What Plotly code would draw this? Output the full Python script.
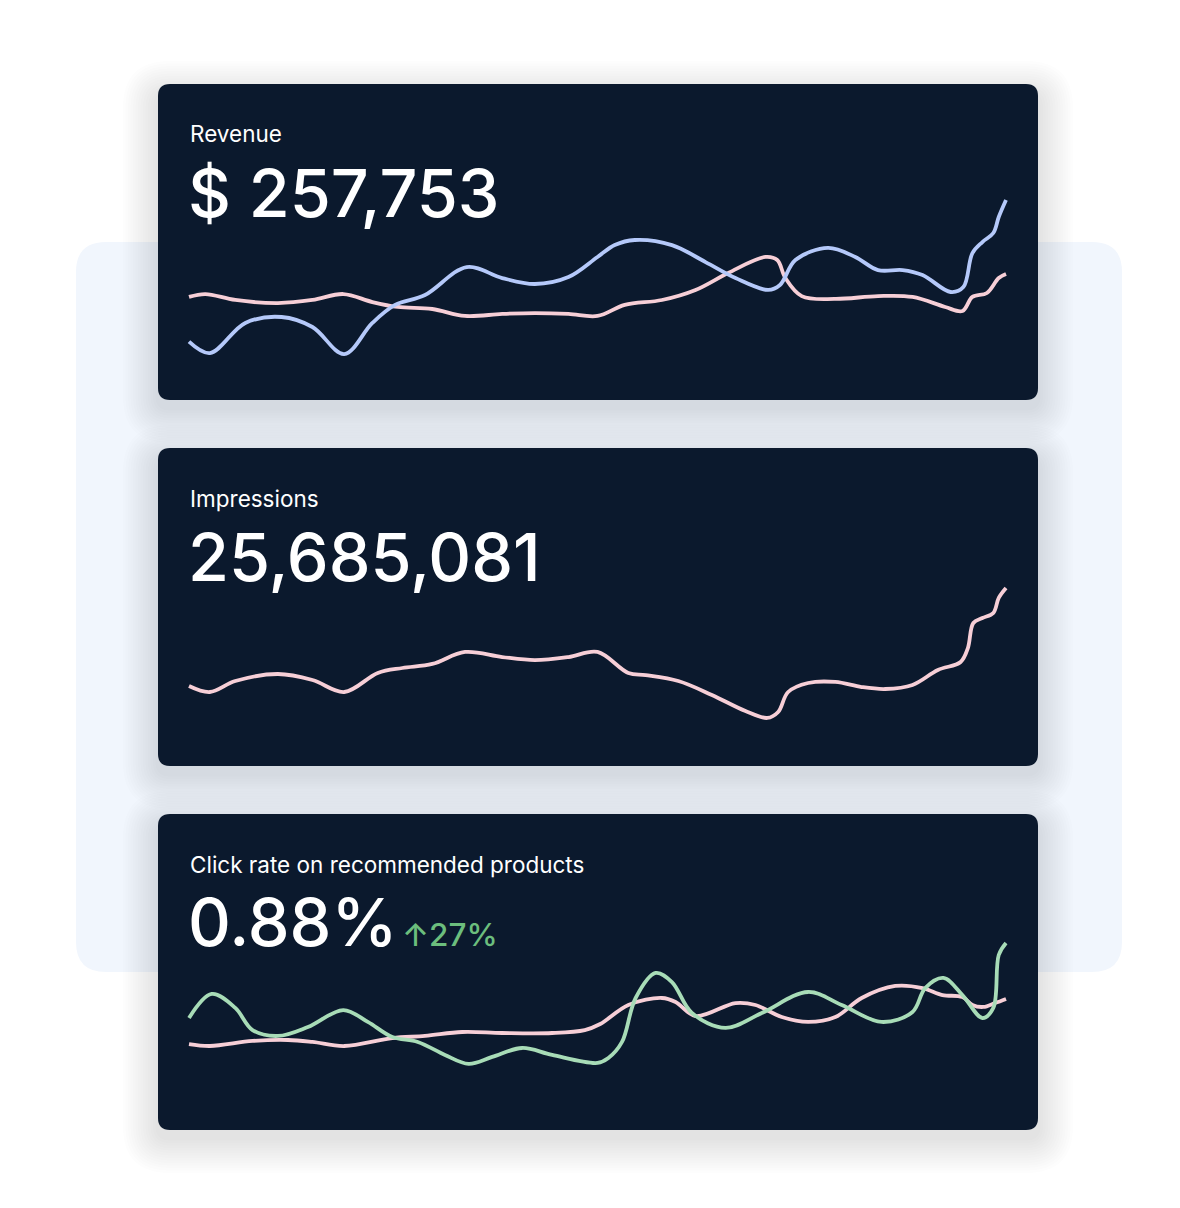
import plotly.graph_objects as go

W, H = 1180, 1208

# ---------------- data (day index 0..90, value index 0..100) ----------------
rev_blue_x = [0, 2.3, 6.2, 10.2, 13.6, 17.1, 20.2, 22.7, 26.0, 30.6, 34.5, 38.1, 41.8, 45.0,
              46.9, 49.1, 53.2, 56.9, 60.2, 63.8, 65.1, 66.8, 70.4, 73.4, 75.9, 78.6, 80.8,
              83.9, 85.3, 86.3, 87.4, 88.6, 89.2, 90.0]
rev_blue_y = [10.8, 4.1, 21.8, 25.3, 19.4, 3.5, 21.8, 32.4, 38.2, 54.7, 48.2, 44.7, 48.8, 60.6,
              67.6, 70.6, 67.6, 57.6, 48.2, 41.2, 44.1, 58.8, 65.9, 60.6, 52.9, 52.9, 50.0,
              40.0, 42.9, 62.9, 69.4, 74.7, 84.1, 94.1]

rev_pink_x = [0, 1.8, 5.1, 9.8, 13.6, 17.0, 20.2, 23.0, 26.8, 30.4, 34.5, 38.1, 41.8, 45.0,
              48.0, 52.1, 55.8, 59.4, 63.5, 64.8, 65.7, 67.5, 71.2, 75.9, 79.7, 83.3, 85.2,
              86.3, 87.9, 89.2, 90.0]
rev_pink_y = [37.1, 38.8, 35.3, 33.5, 35.3, 38.8, 34.1, 31.2, 30.0, 25.9, 27.1, 27.6, 27.1, 25.9,
              32.4, 35.3, 41.2, 51.2, 60.6, 58.8, 48.2, 37.6, 35.9, 37.6, 37.1, 31.2, 28.8,
              37.1, 39.4, 48.2, 50.6]

imp_x = [0, 2.3, 5.1, 9.8, 13.6, 17.1, 20.8, 23.5, 26.8, 30.4, 34.5, 38.1, 41.8, 45.0,
         48.4, 50.3, 53.9, 57.6, 61.3, 63.7, 64.9, 66.0, 68.2, 71.2, 74.1, 76.7, 79.7,
         82.5, 85.0, 85.8, 86.4, 87.4, 88.6, 89.2, 90.0]
imp_y = [26.0, 22.0, 29.3, 34.0, 30.0, 22.0, 34.7, 38.0, 40.7, 48.7, 45.3, 43.3, 45.3, 48.7,
         34.7, 33.3, 29.3, 20.0, 9.3, 4.7, 8.7, 22.0, 28.0, 28.7, 25.3, 24.0, 26.7,
         36.7, 42.0, 51.3, 68.0, 71.3, 74.7, 84.7, 91.3]

ctr_green_x = [0, 2.5, 5.1, 7.0, 9.8, 13.1, 17.0, 19.7, 22.4, 25.2, 28.2, 30.8, 33.4, 36.7,
               40.0, 45.0, 46.2, 47.7, 49.2, 51.4, 53.2, 55.4, 59.1, 63.1, 68.2, 71.9, 76.3,
               79.7, 81.1, 83.1, 85.2, 87.4, 88.6, 89.2, 90.0]
ctr_green_y = [40.7, 57.9, 47.9, 32.1, 27.9, 34.3, 46.4, 37.9, 27.1, 23.6, 14.3, 7.9, 12.9, 19.3,
               14.3, 8.6, 12.1, 23.6, 55.0, 72.9, 66.4, 44.3, 33.6, 44.3, 59.3, 50.0, 37.9,
               45.0, 62.1, 69.3, 57.1, 40.7, 47.9, 85.7, 94.3]

ctr_pink_x = [0, 2.3, 7.0, 10.9, 13.6, 17.1, 22.4, 26.0, 30.1, 34.5, 40.0, 43.6, 45.3, 48.4,
              52.1, 53.6, 55.8, 60.2, 62.4, 65.3, 68.2, 71.2, 74.1, 77.8, 80.8, 83.0, 85.2,
              86.3, 87.5, 88.8, 90.0]
ctr_pink_y = [22.1, 20.7, 24.3, 25.0, 23.6, 20.7, 26.4, 27.9, 30.7, 30.0, 30.0, 32.1, 36.4, 50.0,
              55.0, 52.1, 42.1, 51.4, 50.0, 41.4, 37.9, 41.4, 55.0, 63.6, 62.1, 57.1, 55.7,
              50.0, 48.6, 51.4, 54.3]

card_titles = ["Revenue", "Impressions", "Click rate on recommended products"]
card_values = ["$ 257,753", "25,685,081", "0.88%"]
ctr_change = "↑27%"

# ---------------- styling ----------------
CARD = "#0B192D"
BLUE = "#B5C9FA"
PINK = "#F7CFD7"
GREEN = "#A8DCB7"
GREEN_TXT = "#6CBE7D"
FONT = "Inter"


def fx(x):
    return x / W


def fy(y):
    return 1 - y / H


def rrect(x0, y0, x1, y1, r):
    pts = []
    pts.append(f"M {fx(x0 + r)},{fy(y0)}")
    pts.append(f"L {fx(x1 - r)},{fy(y0)}")
    pts.append(f"Q {fx(x1)},{fy(y0)} {fx(x1)},{fy(y0 + r)}")
    pts.append(f"L {fx(x1)},{fy(y1 - r)}")
    pts.append(f"Q {fx(x1)},{fy(y1)} {fx(x1 - r)},{fy(y1)}")
    pts.append(f"L {fx(x0 + r)},{fy(y1)}")
    pts.append(f"Q {fx(x0)},{fy(y1)} {fx(x0)},{fy(y1 - r)}")
    pts.append(f"L {fx(x0)},{fy(y0 + r)}")
    pts.append(f"Q {fx(x0)},{fy(y0)} {fx(x0 + r)},{fy(y0)}")
    pts.append("Z")
    return " ".join(pts)


shapes = []
# light blue backdrop
shapes.append(dict(type="path", xref="paper", yref="paper", layer="below",
                   path=rrect(76, 242, 1122, 972, 30),
                   fillcolor="#F1F6FD", line=dict(width=0)))

cards = [(158, 84, 1038, 400), (158, 448, 1038, 766), (158, 814, 1038, 1130)]
# soft shadows
for (x0, y0, x1, y1) in cards:
    for i in range(14, 0, -1):
        g = i * 2.5
        shapes.append(dict(type="path", xref="paper", yref="paper", layer="below",
                           path=rrect(x0 - g, y0 - g + 12, x1 + g, y1 + g + 8, 12 + g),
                           fillcolor="rgba(105,110,125,0.011)", line=dict(width=0)))
for (x0, y0, x1, y1) in cards:
    shapes.append(dict(type="path", xref="paper", yref="paper", layer="below",
                       path=rrect(x0, y0, x1, y1, 12),
                       fillcolor=CARD, line=dict(width=0)))

fig = go.Figure()


def line(x, y, color, ax):
    fig.add_trace(go.Scatter(x=x, y=y, mode="lines", xaxis=f"x{ax}", yaxis=f"y{ax}",
                             line=dict(color=color, width=3.8, shape="spline", smoothing=1.0),
                             hoverinfo="skip", showlegend=False))


line(rev_pink_x, rev_pink_y, PINK, "")
line(rev_blue_x, rev_blue_y, BLUE, "")
line(imp_x, imp_y, PINK, "2")
line(ctr_pink_x, ctr_pink_y, PINK, "3")
line(ctr_green_x, ctr_green_y, GREEN, "3")

xdom = [fx(186), fx(1010)]
xr = [-0.33, 90.44]
ax_common = dict(visible=False, showgrid=False, zeroline=False, fixedrange=True)

layout = dict(
    width=W, height=H, margin=dict(l=0, r=0, t=0, b=0),
    paper_bgcolor="white", plot_bgcolor="rgba(0,0,0,0)",
    shapes=shapes, showlegend=False,
    xaxis=dict(domain=xdom, range=xr, **ax_common),
    yaxis=dict(domain=[fy(360), fy(190)], range=[0, 100], **ax_common),
    xaxis2=dict(domain=xdom, range=xr, anchor="y2", **ax_common),
    yaxis2=dict(domain=[fy(725), fy(575)], range=[0, 100], anchor="x2", **ax_common),
    xaxis3=dict(domain=xdom, range=xr, anchor="y3", **ax_common),
    yaxis3=dict(domain=[fy(1075), fy(935)], range=[0, 100], anchor="x3", **ax_common),
)
fig.update_layout(**layout)

ann = []
title_y = [134, 498, 864]
value_y = [193, 557, 922]
for t, v, ty, vy in zip(card_titles, card_values, title_y, value_y):
    ann.append(dict(text=t, x=fx(188), y=fy(ty), xref="paper", yref="paper",
                    xanchor="left", yanchor="middle", showarrow=False,
                    font=dict(family=FONT, size=22.5, color="white")))
    ann.append(dict(text=v, x=fx(186), y=fy(vy), xref="paper", yref="paper",
                    xanchor="left", yanchor="middle", showarrow=False,
                    font=dict(family=FONT, size=66.5, color="white", weight=500)))
ann.append(dict(text=ctr_change, x=fx(400), y=fy(934), xref="paper", yref="paper",
                xanchor="left", yanchor="middle", showarrow=False,
                font=dict(family=FONT, size=31.5, color=GREEN_TXT, weight=500)))
fig.update_layout(annotations=ann)

fig.write_html("out.html")
